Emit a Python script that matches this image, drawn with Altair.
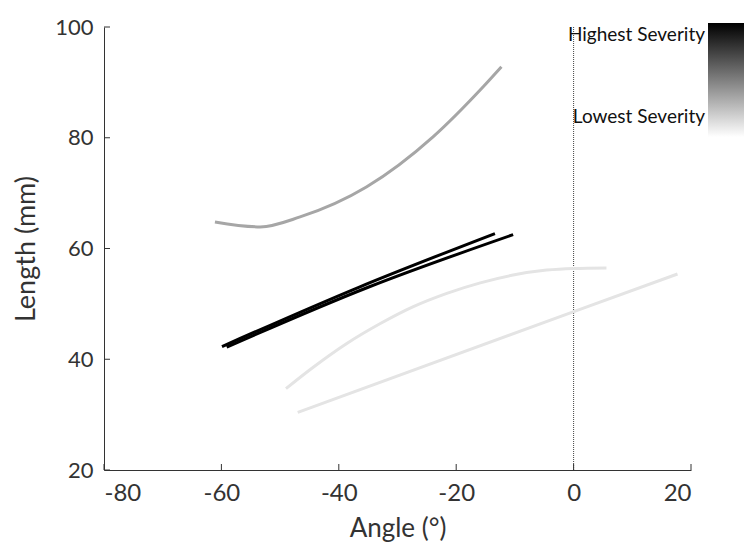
import altair as alt
import pandas as pd

# ---- data ----
gray_x = [-61.1, -53.4, -46.6, -35.3, -23.9, -15.4, -12.3]
gray_y = [64.8, 63.9, 65.7, 71.1, 80.2, 89.2, 92.8]

black1_x = [-59.9, -36.6, -13.4]
black1_y = [42.3, 53.0, 62.7]

black2_x = [-59.1, -35.0, -10.3]
black2_y = [42.2, 53.0, 62.5]

light1_x = [-49.0, -44.3, -38.7, -33.0, -27.3, -21.6, -15.9, -10.3, -4.6, -0.05, 5.6]
light1_y = [34.7, 38.6, 42.8, 46.4, 49.5, 51.9, 53.8, 55.2, 56.1, 56.4, 56.5]

light2_x = [-47.0, -0.2, 17.7]
light2_y = [30.4, 48.5, 55.4]

x_ticks = [-80, -60, -40, -20, 0, 20]
y_ticks = [20, 40, 60, 80, 100]

series_names = ["gray", "light1", "light2", "black1", "black2"]
series_colors = ["#a6a6a6", "#e4e4e4", "#e4e4e4", "#000000", "#000000"]
legend_labels = ["Highest Severity", "Lowest Severity"]

rows = []
for name, xs, ys in [("gray", gray_x, gray_y), ("light1", light1_x, light1_y),
                     ("light2", light2_x, light2_y), ("black1", black1_x, black1_y),
                     ("black2", black2_x, black2_y)]:
    for i, (a, b) in enumerate(zip(xs, ys)):
        rows.append({"series": name, "angle": a, "length": b, "order": i})
df = pd.DataFrame(rows)

FONT = "Lato"
xscale = alt.Scale(domain=[-80, 20], nice=False, zero=False)
yscale = alt.Scale(domain=[20, 100], nice=False, zero=False)
hyphen = "replace(datum.label, '\u2212', '-')"

lines = alt.Chart(df).mark_line(strokeWidth=3, interpolate="monotone", strokeCap="butt").encode(
    x=alt.X("angle:Q", scale=xscale,
            axis=alt.Axis(values=x_ticks, title="Angle (°)", ticks=False, grid=False,
                          labelExpr=hyphen, labelFontSize=24, titleFontSize=26,
                          labelPadding=11, titlePadding=10)),
    y=alt.Y("length:Q", scale=yscale,
            axis=alt.Axis(values=y_ticks, title="Length (mm)", ticks=False, grid=False,
                          labelExpr=hyphen, labelFontSize=22, titleFontSize=27,
                          labelPadding=11, titlePadding=14)),
    color=alt.Color("series:N", scale=alt.Scale(domain=series_names, range=series_colors), legend=None),
    detail="series:N",
    order="order:Q",
)

zero_rule = alt.Chart(pd.DataFrame({"x": [0]})).mark_rule(
    strokeDash=[1, 1], color="#444", strokeWidth=1
).encode(x=alt.X("x:Q", scale=xscale))

xt = alt.Chart(pd.DataFrame({"t": x_ticks})).mark_rule(color="#333", strokeWidth=1).encode(
    x=alt.X("t:Q", scale=xscale), y=alt.value(443), y2=alt.value(437))
yt = alt.Chart(pd.DataFrame({"t": y_ticks})).mark_rule(color="#333", strokeWidth=1).encode(
    y=alt.Y("t:Q", scale=yscale), x=alt.value(0), x2=alt.value(6))

grad = alt.LinearGradient(
    gradient="linear",
    stops=[alt.GradientStop(color="#000000", offset=0),
           alt.GradientStop(color="#ffffff", offset=1)],
    x1=0, x2=0, y1=0, y2=1,
)
bar = alt.Chart(pd.DataFrame({"a": [0]})).mark_rect(color=grad).encode(
    x=alt.value(604), x2=alt.value(660), y=alt.value(-4), y2=alt.value(110))

lab = alt.Chart(pd.DataFrame({"label": legend_labels, "py": [8, 90]})).mark_text(
    align="right", baseline="middle", font=FONT, fontSize=19, color="#111"
).encode(x=alt.value(601), y=alt.Y("py:Q", scale=None), text="label:N")

chart = alt.layer(zero_rule, lines, xt, yt, bar, lab).properties(
    width=587, height=443,
    padding={"left": 104, "top": 27, "right": 53, "bottom": 77},
    autosize=alt.AutoSizeParams(type="none"),
).configure_view(stroke=None).configure_axis(
    domainColor="#333", labelColor="#333", titleColor="#333",
    labelFont=FONT, titleFont=FONT,
    titleFontWeight="normal",
)

chart.save("out.html", embed_options={"renderer": "svg", "actions": False})
